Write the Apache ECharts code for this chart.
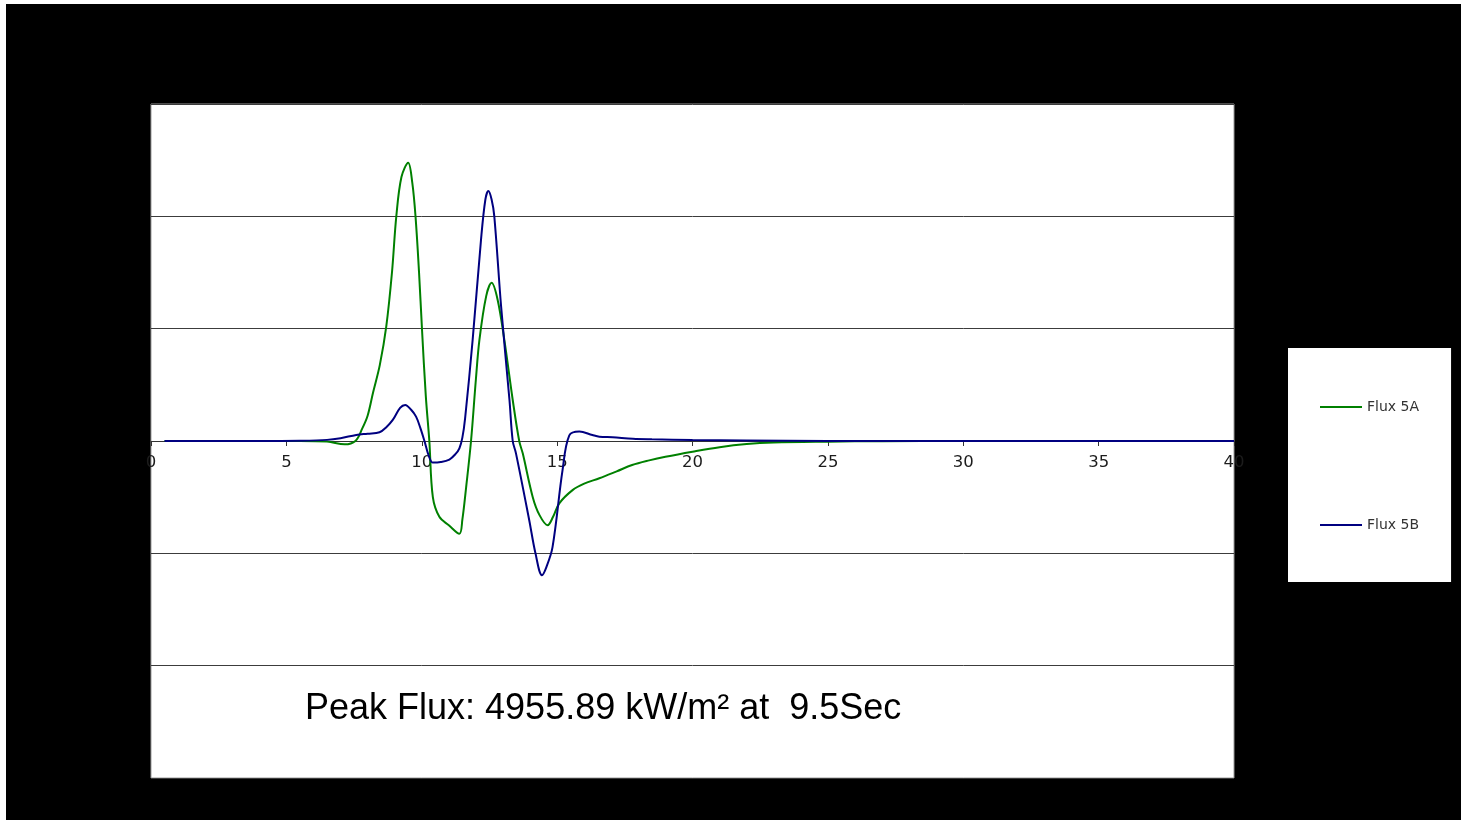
<!DOCTYPE html>
<html>
<head>
<meta charset="utf-8">
<script src="https://cdn.jsdelivr.net/npm/echarts@6/dist/echarts.min.js"></script>
<style>
  html, body { margin: 0; padding: 0; background: #ffffff; width: 1461px; height: 820px; overflow: hidden; }
  #chart { position: absolute; left: 6px; top: 4px; width: 1455px; height: 816px; }
</style>
</head>
<body>
<div id="chart"></div>
<script>
// Time (s) and flux (kW/m²) values
const timeA = [0.5, 2, 4, 5.5, 6.5, 7.15, 7.55, 7.8, 8.0, 8.2, 8.45, 8.69, 8.9, 9.06, 9.25, 9.5, 9.65, 9.77, 9.9, 10.01, 10.15, 10.28, 10.41, 10.65, 11.0, 11.39, 11.5, 11.64, 11.82, 12.0, 12.13, 12.38, 12.58, 12.8, 13.05, 13.36, 13.6, 13.73, 14.1, 14.35, 14.65, 14.85, 15.08, 15.57, 16.0, 16.56, 17.2, 17.77, 18.4, 19.0, 20, 21, 22, 23, 25, 27, 30, 35, 40];
const fluxA = [0, 0, 0, 0, -10, -60, 0, 220, 450, 860, 1350, 2040, 3000, 4000, 4700, 4956, 4600, 4000, 3000, 1980, 800, 0, -1000, -1350, -1500, -1650, -1400, -820, 0, 1100, 1800, 2580, 2816, 2520, 1800, 730, 0, -220, -1000, -1320, -1500, -1350, -1110, -875, -760, -663, -540, -428, -345, -280, -190, -110, -55, -28, -12, -3, 0, 0, 0];

const timeB = [0.5, 4, 5.5, 6.5, 7.0, 7.58, 8.0, 8.44, 8.7, 8.93, 9.2, 9.39, 9.6, 9.79, 9.95, 10.1, 10.25, 10.41, 10.7, 11.02, 11.25, 11.39, 11.5, 11.6, 11.88, 12.19, 12.35, 12.46, 12.58, 12.68, 12.93, 13.24, 13.36, 13.48, 13.97, 14.2, 14.44, 14.6, 14.83, 15.2, 15.45, 15.82, 16.3, 16.56, 17.05, 17.8, 18.5, 20, 22, 25, 30, 40];
const fluxB = [0, 0, 5, 20, 50, 107, 130, 155, 250, 375, 590, 643, 560, 434, 230, 0, -250, -385, -375, -330, -230, -130, 60, 400, 1800, 3590, 4300, 4450, 4300, 4000, 2400, 730, 0, -220, -1410, -2000, -2390, -2250, -1890, -520, 100, 170, 107, 77, 66, 40, 30, 16, 8, 0, 0, 0];

const seriesNames = ['Flux 5A', 'Flux 5B'];
const xTicks = { min: 0, max: 40, interval: 5 };
const yTicks = { min: -6000, max: 6000, interval: 2000 };
const annotation = 'Peak Flux: 4955.89 kW/m² at  9.5Sec';

const pairs = (xs, ys) => xs.map((x, i) => [x, ys[i]]);

const chart = echarts.init(document.getElementById('chart'), null, { renderer: 'canvas' });
chart.setOption({
  backgroundColor: '#000000',
  animation: false,
  grid: {
    left: 145, top: 100, width: 1083, height: 674,
    show: true, backgroundColor: '#ffffff', borderColor: '#9a9a9a', borderWidth: 1
  },
  xAxis: {
    type: 'value', min: xTicks.min, max: xTicks.max, interval: xTicks.interval,
    offset: -337,
    axisLine: { onZero: false, lineStyle: { color: '#333333', width: 1 } },
    axisTick: { show: true, inside: false, length: 5, lineStyle: { color: '#333333' } },
    axisLabel: { color: '#1c1c1c', fontFamily: 'DejaVu Sans', fontSize: 16.5, margin: 13 },
    splitLine: { show: false }
  },
  yAxis: {
    type: 'value', min: yTicks.min, max: yTicks.max, interval: yTicks.interval,
    axisLine: { show: false },
    axisTick: { show: false },
    axisLabel: { show: false },
    splitLine: { show: true, lineStyle: { color: '#3c3c3c', width: 1 } }
  },
  legend: {
    orient: 'vertical', left: 1282, top: 344,
    backgroundColor: '#ffffff', padding: [52, 32, 50, 32],
    icon: 'rect', itemGap: 104, itemWidth: 42, itemHeight: 2,
    textStyle: { color: '#333333', fontFamily: 'DejaVu Sans', fontSize: 14 },
    data: seriesNames
  },
  series: [
    {
      name: seriesNames[0], type: 'line', data: pairs(timeA, fluxA),
      symbol: 'none', smooth: 0.35,
      lineStyle: { color: '#008000', width: 2 }, itemStyle: { color: '#008000' }, z: 3
    },
    {
      name: seriesNames[1], type: 'line', data: pairs(timeB, fluxB),
      symbol: 'none', smooth: 0.35,
      lineStyle: { color: '#000080', width: 2 }, itemStyle: { color: '#000080' }, z: 4
    }
  ],
  graphic: [
    {
      type: 'text', left: 299, top: 687, z: 10,
      style: { text: annotation, fill: '#000000', fontFamily: 'Liberation Sans, Arial', fontSize: 36 }
    }
  ]
});
</script>
</body>
</html>
